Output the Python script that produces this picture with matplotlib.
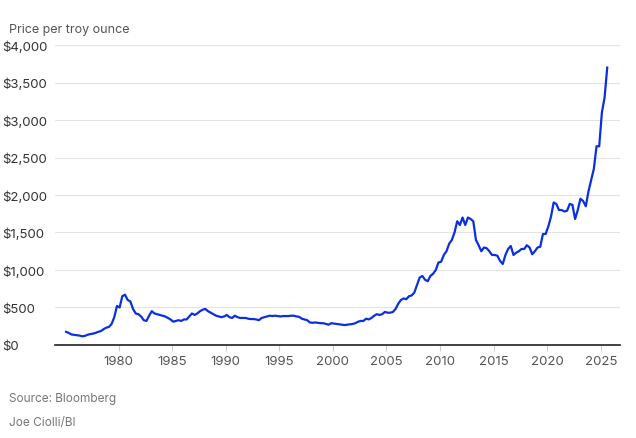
import matplotlib
matplotlib.use("Agg")
import matplotlib.pyplot as plt
import numpy as np

plt.rcParams['font.family'] = ['Inter', 'DejaVu Sans']

years = list(range(1975, 2026))
quarterly = [
 [175,160,140,135],[130,125,115,120],[135,145,150,160],[175,185,210,230],
 [240,280,370,520],[500,650,670,600],[580,480,420,410],[380,330,320,390],
 [450,420,410,400],[390,380,360,340],[310,320,330,320],[340,340,380,420],
 [400,420,450,470],[480,450,430,410],[390,380,370,380],[400,370,360,390],
 [370,360,360,360],[350,345,345,340],[330,360,370,380],[390,385,390,385],
 [380,385,385,385],[390,390,380,375],[350,340,330,300],[295,300,295,290],
 [290,280,270,290],[285,280,275,270],[265,270,275,280],[290,310,320,320],
 [350,340,360,390],[410,400,410,440],[430,430,440,480],[550,600,620,610],
 [650,660,700,800],[900,920,870,850],[920,950,1000,1100],[1110,1200,1250,1350],
 [1400,1500,1650,1600],[1700,1600,1700,1680],[1650,1400,1330,1250],[1300,1290,1250,1200],
 [1200,1190,1120,1080],[1200,1280,1320,1200],[1230,1250,1280,1280],[1330,1300,1210,1250],
 [1300,1310,1480,1480],[1580,1710,1900,1880],[1800,1800,1780,1790],[1880,1870,1680,1800],
 [1950,1920,1850,2050],[2200,2350,2650,2650],[3100,3300,3700],
]
xs, ys = [], []
for y, qs in zip(years, quarterly):
    for i, v in enumerate(qs):
        xs.append(y + 0.1 + i * 0.25)
        ys.append(v)

yticks = [0, 500, 1000, 1500, 2000, 2500, 3000, 3500, 4000]
ytick_labels = ['$0', '$500', '$1,000', '$1,500', '$2,000', '$2,500', '$3,000', '$3,500', '$4,000']
xticks = [1980, 1985, 1990, 1995, 2000, 2005, 2010, 2015, 2020, 2025]

fig = plt.figure(figsize=(6.36, 4.39), dpi=100)
ax = fig.add_axes([0.087, 0.212, 0.888, 0.683])
ax.plot(xs, ys, color='#0a2fe0', lw=1.6, solid_joinstyle='round')
ax.set_xlim(1974.1, 2026.8)
ax.set_ylim(0, 4000)
ax.set_yticks(yticks)
ax.set_yticklabels(ytick_labels)
ax.set_xticks(xticks)
ax.grid(axis='y', color='#e3e3e3', lw=0.8)
ax.set_axisbelow(True)
for s in ['top', 'right', 'left']:
    ax.spines[s].set_visible(False)
ax.spines['bottom'].set_color('#222222')
ax.spines['bottom'].set_linewidth(1.2)
ax.tick_params(axis='y', length=0, labelsize=9.5, labelcolor='#333333', pad=4)
ax.tick_params(axis='x', length=4, color='#cccccc', labelsize=9.5, labelcolor='#555555')
for lab in ax.get_yticklabels():
    lab.set_horizontalalignment('left')
    lab.set_x(-0.085)
fig.text(0.014, 0.925, 'Price per troy ounce', fontsize=9, color='#555555')
fig.text(0.014, 0.085, 'Source: Bloomberg', fontsize=8.5, color='#777777')
fig.text(0.014, 0.03, 'Joe Ciolli/BI', fontsize=8.5, color='#777777')
fig.savefig('out.png', dpi=100)
